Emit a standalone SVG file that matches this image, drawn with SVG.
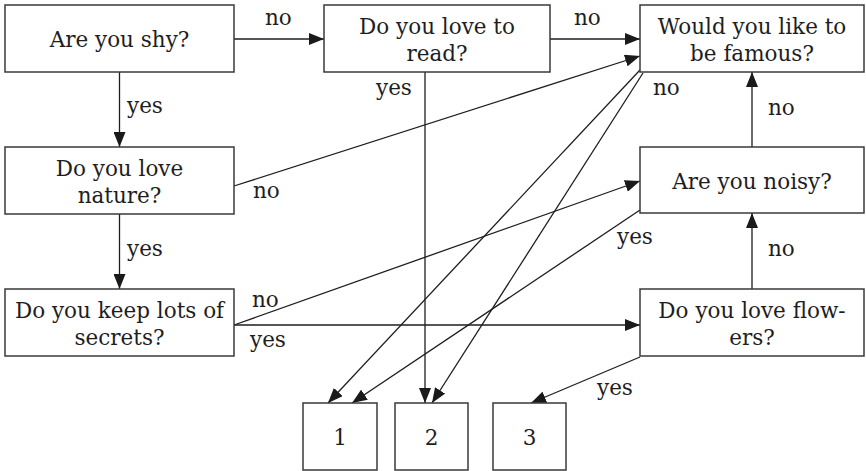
<svg xmlns="http://www.w3.org/2000/svg" width="866" height="471" viewBox="0 0 866 471">
<defs>
<marker id="ah" markerUnits="userSpaceOnUse" markerWidth="15" markerHeight="12" refX="15" refY="6" orient="auto">
<path d="M0,0 L15,6 L0,12 z" fill="#1a1a1a"/>
</marker>
<style>
rect{fill:#fff;stroke:#3a3a3a;stroke-width:1.5}
text{font-family:"DejaVu Serif","Liberation Serif",serif;font-size:21.5px;fill:#1e1e1e;text-anchor:middle}
.lbl{text-anchor:start}
#connectors line{stroke:#1e1e1e;stroke-width:1.3;fill:none}
.a{marker-end:url(#ah)}
</style>
</defs>
<rect x="0" y="0" width="866" height="471" style="stroke:none;fill:#fff"/>
<g id="connectors">
<line class="a" x1="234" y1="39" x2="324" y2="39"/>
<line class="a" x1="119.5" y1="72" x2="119.5" y2="147"/>
<line class="a" x1="550" y1="39" x2="640" y2="39"/>
<line class="a" x1="425" y1="72" x2="425" y2="403"/>
<line class="a" x1="234" y1="186" x2="640" y2="56"/>
<line class="a" x1="119.5" y1="214" x2="119.5" y2="289"/>
<line class="a" x1="234" y1="325" x2="640" y2="181"/>
<line class="a" x1="234" y1="325" x2="640" y2="325"/>
<line class="a" x1="640" y1="70" x2="328" y2="403"/>
<line class="a" x1="643" y1="73" x2="432" y2="403"/>
<line class="a" x1="640" y1="210" x2="352" y2="403"/>
<line class="a" x1="752" y1="147" x2="752" y2="72"/>
<line class="a" x1="752" y1="289" x2="752" y2="213"/>
<line class="a" x1="640" y1="357" x2="531" y2="403"/>
<text class="lbl" x="265" y="25">no</text>
<text class="lbl" x="127" y="113">yes</text>
<text class="lbl" x="574" y="25">no</text>
<text class="lbl" x="376" y="95">yes</text>
<text class="lbl" x="253" y="198">no</text>
<text class="lbl" x="127" y="256">yes</text>
<text class="lbl" x="252" y="307">no</text>
<text class="lbl" x="250" y="347">yes</text>
<text class="lbl" x="653" y="95">no</text>
<text class="lbl" x="768" y="115">no</text>
<text class="lbl" x="617" y="244">yes</text>
<text class="lbl" x="768" y="256">no</text>
<text class="lbl" x="597" y="395">yes</text>
</g>
<g id="n-shy"><rect x="5" y="5" width="229" height="67"/><text x="119.5" y="47">Are you shy?</text></g>
<g id="n-read"><rect x="324" y="5" width="226" height="67"/><text x="437" y="33.5">Do you love to</text><text x="437" y="60.5">read?</text></g>
<g id="n-famous"><rect x="640" y="5" width="224" height="67"/><text x="752" y="33.5">Would you like to</text><text x="752" y="60.5">be famous?</text></g>
<g id="n-nature"><rect x="5" y="147" width="229" height="67"/><text x="119.5" y="175.5">Do you love</text><text x="119.5" y="202.5">nature?</text></g>
<g id="n-noisy"><rect x="640" y="147" width="224" height="66"/><text x="752" y="188.5">Are you noisy?</text></g>
<g id="n-secrets"><rect x="5" y="289" width="229" height="67"/><text x="119.5" y="317.5">Do you keep lots of</text><text x="119.5" y="344.5">secrets?</text></g>
<g id="n-flowers"><rect x="640" y="289" width="224" height="67"/><text x="752" y="317.5">Do you love flow-</text><text x="752" y="344.5">ers?</text></g>
<g id="n-1"><rect x="303" y="403" width="74" height="67"/><text x="340" y="445">1</text></g>
<g id="n-2"><rect x="395" y="403" width="73" height="67"/><text x="431.5" y="445">2</text></g>
<g id="n-3"><rect x="493" y="403" width="73" height="67"/><text x="529.5" y="445">3</text></g>
</svg>
